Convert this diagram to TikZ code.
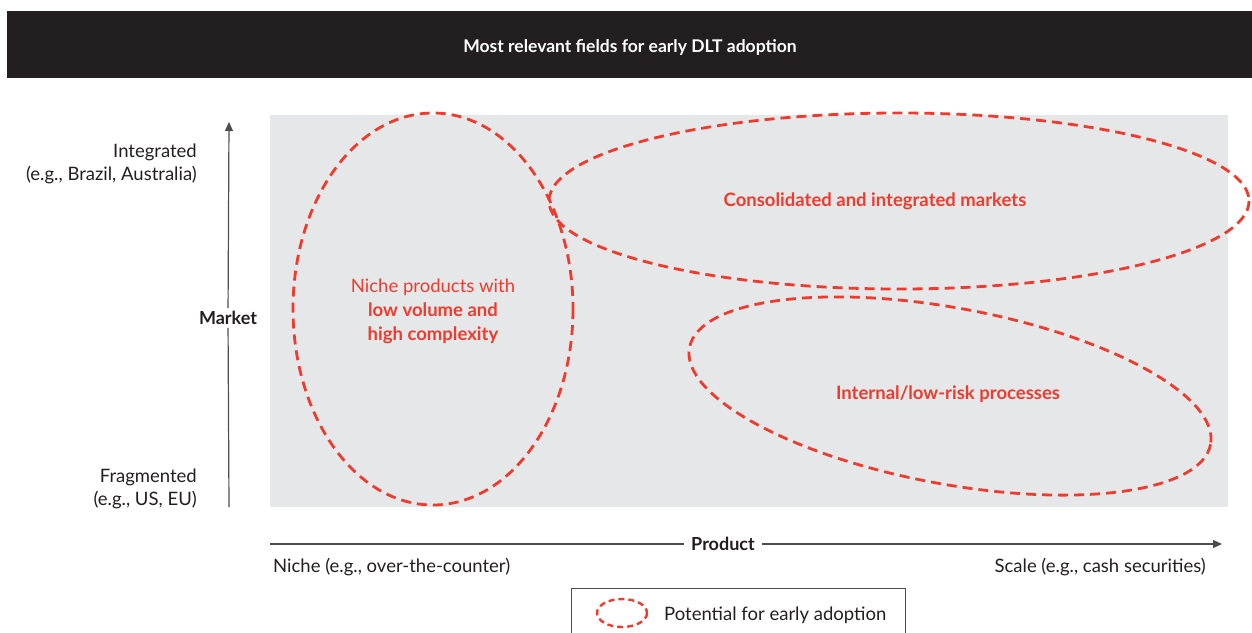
\documentclass[tikz,border=0pt]{standalone}
\usepackage{fontspec}
\setmainfont{Lato}
\usetikzlibrary{arrows.meta}
\definecolor{barblack}{HTML}{231F20}
\definecolor{panelgray}{HTML}{E6E7E8}
\definecolor{axisgray}{HTML}{4D4D4F}
\definecolor{accent}{HTML}{EF3B2D}
\tikzset{
  axis/.style={draw=axisgray, line width=1.2pt},
  region/.style={draw=accent, line width=2.8pt, dash pattern=on 10pt off 6pt},
  lbl/.style={font=\fontsize{18.5}{23}\selectfont, text=barblack, inner sep=0pt},
  redlbl/.style={font=\fontsize{18.5}{24}\selectfont\bfseries, text=accent, align=center, inner sep=0pt},
  axlbl/.style={font=\fontsize{18}{21}\selectfont\bfseries, text=barblack, fill=white, inner xsep=7pt, inner ysep=3pt},
}
\begin{document}
\begin{tikzpicture}[x=1pt,y=-1pt]
\useasboundingbox (0,0) rectangle (1252,632);
% title bar
\fill[barblack] (7,11) rectangle (1252,78);
\node[font=\fontsize{17.5}{21}\selectfont\bfseries, text=white] (title) at (630,47) {Most relevant fields for early DLT adoption};
% panel
\fill[panelgray] (270,115) rectangle (1228,507);
% regions
\draw[region] (433,309) ellipse [x radius=140, y radius=196];
\draw[region] (899,201) ellipse [x radius=350, y radius=88];
\draw[region, rotate around={-10.5:(950,396)}] (950,396) ellipse [x radius=265, y radius=88];
% region labels
\node[redlbl, align=center] (niche) at (433,311) {{\mdseries Niche products with}\\low volume and\\high complexity};
\node[redlbl] (cons) at (875,201) {Consolidated and integrated markets};
\node[redlbl] (internal) at (948,394) {Internal/low-risk processes};
% vertical axis
\coordinate (vbot) at (229,507);
\coordinate (vtop) at (229,122);
\node[axlbl] (market) at (228,318) {Market};
\draw[axis] (vbot) -- (market);
\draw[axis, -{Triangle[length=9pt,width=8pt]}] (market) -- (vtop);
\node[lbl, anchor=east, align=right, font=\fontsize{18.5}{23}\selectfont] (integ) at (197,164) {Integrated\\(e.g., Brazil, Australia)};
\node[lbl, anchor=east, align=right, font=\fontsize{18.5}{23}\selectfont] (frag) at (197,489) {Fragmented\\(e.g., US, EU)};
% horizontal axis
\coordinate (hleft) at (270,544);
\coordinate (hright) at (1222,544);
\node[axlbl] (product) at (723,544) {Product};
\draw[axis] (hleft) -- (product);
\draw[axis, -{Triangle[length=9pt,width=8pt]}] (product) -- (hright);
\node[lbl, anchor=west] (nichelbl) at (273,567) {Niche (e.g., over-the-counter)};
\node[lbl, anchor=east] (scalelbl) at (1206,567) {Scale (e.g., cash securities)};
% legend
\draw[draw=axisgray, line width=0.8pt] (571,640) -- (571,588) -- (905,588) -- (905,640);
\draw[region, line width=2.4pt, dash pattern=on 6pt off 4pt] (622,613) ellipse [x radius=25, y radius=14];
\node[lbl, anchor=west] (legtxt) at (664,615) {Potential for early adoption};
\end{tikzpicture}
\end{document}
